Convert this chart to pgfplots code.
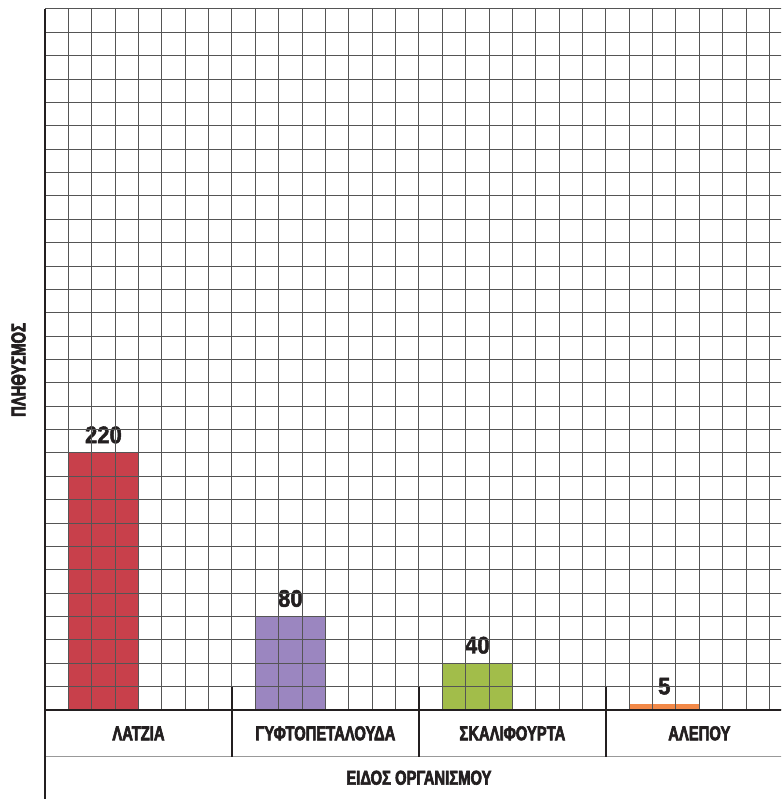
\documentclass[border=0pt]{standalone}
\usepackage{fontspec}
\setmainfont{Liberation Sans}
\newfontfamily\numfont{Liberation Sans Bold}[FakeStretch=0.92, FakeBold=2]
\newfontfamily\labfont{Liberation Sans Bold}[FakeStretch=0.74, FakeBold=3]
\usepackage{pgfplots}
\pgfplotsset{compat=1.18}
\definecolor{cRed}{RGB}{200,64,75}
\definecolor{cPurple}{RGB}{155,134,192}
\definecolor{cGreen}{RGB}{162,189,74}
\definecolor{cOrange}{RGB}{242,137,72}
\definecolor{txt}{RGB}{35,31,32}
\definecolor{gridc}{RGB}{85,85,85}
\pgfplotsset{base/.style={
  at={(45pt,89pt)}, anchor=south west,
  scale only axis, width=747.8pt, height=701pt,
  xmin=0, xmax=32, ymin=0, ymax=600,
  xtick={0,...,32}, ytick={0,20,...,600},
  xticklabels={}, yticklabels={},
  major tick length=0pt, tick style={draw=none},
  axis line style={draw=none},
  clip=false,
}}
\begin{document}
\begin{tikzpicture}
\useasboundingbox (0,0) rectangle (781pt,799pt);
\clip (0,0) rectangle (781pt,799pt);
\begin{axis}[base,
  /pgf/number format/assume math mode=true,
  every node near coord/.append style={font=\numfont\fontsize{24}{24}\selectfont, text=txt, anchor=south, yshift=6pt},
]
\addplot[ybar, bar width=3, bar shift=0pt, fill=cRed, draw=none, nodes near coords] coordinates {(2.5,220)};
\addplot[ybar, bar width=3, bar shift=0pt, fill=cPurple, draw=none, nodes near coords] coordinates {(10.5,80)};
\addplot[ybar, bar width=3, bar shift=0pt, fill=cGreen, draw=none, nodes near coords] coordinates {(18.5,40)};
\addplot[ybar, bar width=3, bar shift=0pt, fill=cOrange, draw=none, nodes near coords] coordinates {(26.5,5)};
\end{axis}
\begin{axis}[base, grid=major, major grid style={draw=gridc, line width=1pt}]
\addplot[draw=none] coordinates {(0,0)};
% frame lines
\draw[txt, line width=1.3pt] (axis cs:0,0) -- (axis cs:32,0);
\draw[gridc!60, line width=0.9pt] (axis cs:0,-40) -- (axis cs:32,-40);
\draw[txt, line width=1.6pt] (axis cs:8,20) -- (axis cs:8,-40);
\draw[txt, line width=1.6pt] (axis cs:16,20) -- (axis cs:16,-40);
\draw[txt, line width=1.6pt] (axis cs:24,20) -- (axis cs:24,-40);
\draw[txt, line width=2pt] (axis cs:0,600) -- (axis cs:0,-120);
% category labels
\node[font=\labfont\fontsize{20}{20}\selectfont, text=txt] at (axis cs:4,-20) {ΛΑΤΖΙΑ};
\node[font=\labfont\fontsize{20}{20}\selectfont, text=txt] at (axis cs:12,-20) {ΓΥΦΤΟΠΕΤΑΛΟΥΔΑ};
\node[font=\labfont\fontsize{20}{20}\selectfont, text=txt] at (axis cs:20,-20) {ΣΚΑΛΙΦΟΥΡΤΑ};
\node[font=\labfont\fontsize{20}{20}\selectfont, text=txt] at (axis cs:28,-20) {ΑΛΕΠΟΥ};
\node[font=\labfont\fontsize{20}{20}\selectfont, text=txt] at (axis cs:16,-58) {ΕΙΔΟΣ ΟΡΓΑΝΙΣΜΟΥ};
\end{axis}
\node[rotate=90, font=\labfont\fontsize{20}{20}\selectfont, text=txt] at (18.5pt,429pt) {ΠΛΗΘΥΣΜΟΣ};
\end{tikzpicture}
\end{document}
